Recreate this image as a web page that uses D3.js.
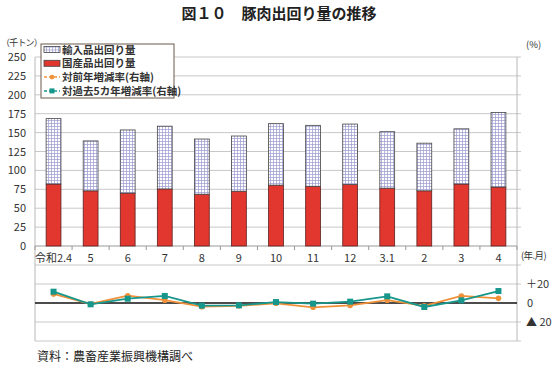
<!DOCTYPE html>
<html>
<head>
<meta charset="utf-8">
<script src="https://cdn.jsdelivr.net/npm/d3@7"></script>
<style>
  body { margin: 0; background: #fff; }
  svg { display: block; font-family: "Noto Sans CJK JP", "Noto Sans", sans-serif; }
</style>
</head>
<body>
<svg id="chart" width="558" height="369"></svg>
<script>
const categories = ['令和2.4', '5', '6', '7', '8', '9', '10', '11', '12', '3.1', '2', '3', '4']
const domestic = [82, 73, 70, 75.5, 68.5, 72.5, 80.5, 79, 81.3, 76.5, 73, 82, 78]
const total = [168.5, 139, 153.5, 158.5, 141.5, 145.5, 161.8, 159.6, 161.3, 151.2, 136, 155, 176.5]
const imported = total.map((t, i) => +(t - domestic[i]).toFixed(1))
const yoy = [9.5, -1, 7.7, 3, -3.9, -3, -0.3, -4.5, -2.5, 3, -3, 7.4, 4.9]
const vs5y = [11.9, -1.4, 4.5, 7.4, -2.8, -2.5, 1, -0.7, 1.4, 7, -4.2, 2.8, 12.6]
const leftTicks = d3.range(0, 251, 25)
const rightTicks = [20, 0, -20]

const colors = { domestic: '#e2372e', yoy: '#f0913a', vs5y: '#17968c', grid: '#c8c8c8', text: '#333' }
const margin = { left: 35, right: 517, top: 57, bottom: 246 }

const svg = d3.select('#chart')

const x = d3.scaleBand()
  .domain(categories)
  .range([margin.left, margin.right])
  .paddingInner(0.6)
  .paddingOuter(0.3)
const y = d3.scaleLinear().domain([0, 250]).range([margin.bottom, margin.top])
const y2 = d3.scaleLinear().domain([-40, 40]).range([341, 265])

// hatch pattern for imports
const defs = svg.append('defs')
const pat = defs.append('pattern')
  .attr('id', 'grid')
  .attr('width', 3).attr('height', 3)
  .attr('patternUnits', 'userSpaceOnUse')
pat.append('rect').attr('width', 3).attr('height', 3).attr('fill', '#fff')
pat.append('path').attr('d', 'M0,0.5H3M0.5,0V3').attr('stroke', '#9a9ad0').attr('stroke-width', 0.7)

// title
svg.append('text')
  .attr('x', 279).attr('y', 19)
  .attr('text-anchor', 'middle')
  .attr('font-size', 15).attr('font-weight', 'bold').attr('fill', '#222')
  .text('図１０　豚肉出回り量の推移')

// top grid
svg.append('g').selectAll('line')
  .data(leftTicks.filter(d => d > 0))
  .join('line')
  .attr('x1', margin.left).attr('x2', margin.right + 4)
  .attr('y1', d => y(d)).attr('y2', d => y(d))
  .attr('stroke', colors.grid)

svg.append('g').selectAll('text')
  .data(leftTicks)
  .join('text')
  .attr('x', 26).attr('y', d => y(d) + 4)
  .attr('text-anchor', 'end')
  .attr('font-size', 11).attr('fill', colors.text)
  .text(d => d)

// bottom grid
svg.append('g').selectAll('line')
  .data([40, 20, -20, -40])
  .join('line')
  .attr('x1', margin.left).attr('x2', margin.right + 4)
  .attr('y1', d => y2(d)).attr('y2', d => y2(d))
  .attr('stroke', colors.grid)

svg.append('g').selectAll('text')
  .data(rightTicks)
  .join('text')
  .attr('x', d => d === 0 ? 527 : 526).attr('y', d => y2(d) + 4)
  .attr('font-size', 11).attr('fill', colors.text)
  .text(d => d > 0 ? '＋' + d : d < 0 ? '▲ ' + (-d) : '0')

// axes lines
svg.append('line')
  .attr('x1', margin.left).attr('x2', margin.left)
  .attr('y1', margin.top).attr('y2', 341)
  .attr('stroke', '#b8b8b8')
svg.append('line')
  .attr('x1', margin.right).attr('x2', margin.right)
  .attr('y1', margin.top).attr('y2', 341)
  .attr('stroke', '#b8b8b8')
svg.append('line')
  .attr('x1', margin.left).attr('x2', margin.right)
  .attr('y1', y(0)).attr('y2', y(0))
  .attr('stroke', '#999')

// category ticks
const step = x.step()
svg.append('g').selectAll('line')
  .data(d3.range(categories.length + 1))
  .join('line')
  .attr('x1', i => margin.left + i * step).attr('x2', i => margin.left + i * step)
  .attr('y1', y(0)).attr('y2', y(0) + 4)
  .attr('stroke', '#999')

svg.append('g').selectAll('text')
  .data(categories)
  .join('text')
  .attr('x', d => x(d) + x.bandwidth() / 2)
  .attr('y', 262)
  .attr('text-anchor', 'middle')
  .attr('font-size', 11).attr('fill', colors.text)
  .text(d => d)

// bars
const bars = svg.append('g')
bars.selectAll('.dom')
  .data(categories)
  .join('rect')
  .attr('class', 'dom')
  .attr('x', d => x(d)).attr('width', x.bandwidth())
  .attr('y', (d, i) => y(domestic[i]))
  .attr('height', (d, i) => y(0) - y(domestic[i]))
  .attr('fill', colors.domestic).attr('stroke', '#5a2020').attr('stroke-width', 0.8)
bars.selectAll('.imp')
  .data(categories)
  .join('rect')
  .attr('class', 'imp')
  .attr('x', d => x(d)).attr('width', x.bandwidth())
  .attr('y', (d, i) => y(domestic[i] + imported[i]))
  .attr('height', (d, i) => y(domestic[i]) - y(domestic[i] + imported[i]))
  .attr('fill', 'url(#grid)').attr('stroke', '#444').attr('stroke-width', 0.8)

// zero line bottom panel
svg.append('line')
  .attr('x1', margin.left).attr('x2', margin.right)
  .attr('y1', y2(0)).attr('y2', y2(0))
  .attr('stroke', '#111').attr('stroke-width', 1.6)

const cx = d => x(d) + x.bandwidth() / 2
const line = d3.line().x(d => cx(d[0])).y(d => y2(d[1]))

svg.append('path')
  .datum(categories.map((c, i) => [c, yoy[i]]))
  .attr('d', line).attr('fill', 'none')
  .attr('stroke', colors.yoy).attr('stroke-width', 1.8)
svg.append('g').selectAll('circle')
  .data(categories)
  .join('circle')
  .attr('cx', cx).attr('cy', (d, i) => y2(yoy[i]))
  .attr('r', 2.8).attr('fill', colors.yoy)

svg.append('path')
  .datum(categories.map((c, i) => [c, vs5y[i]]))
  .attr('d', line).attr('fill', 'none')
  .attr('stroke', colors.vs5y).attr('stroke-width', 1.8)
svg.append('g').selectAll('rect')
  .data(categories)
  .join('rect')
  .attr('x', d => cx(d) - 3).attr('y', (d, i) => y2(vs5y[i]) - 3)
  .attr('width', 6).attr('height', 6)
  .attr('fill', colors.vs5y)

// unit labels
svg.append('text').attr('x', 1).attr('y', 46)
  .attr('font-size', 9).attr('letter-spacing', -0.8).attr('fill', colors.text).text('（千トン）')
svg.append('text').attr('x', 526).attr('y', 48)
  .attr('font-size', 9.5).attr('fill', colors.text).text('(%)')
svg.append('text').attr('x', 521).attr('y', 259)
  .attr('font-size', 9.5).attr('letter-spacing', -0.6).attr('fill', colors.text).text('(年.月)')

// legend
const lg = svg.append('g').attr('transform', 'translate(41,44)')
lg.append('rect').attr('width', 133).attr('height', 54)
  .attr('fill', '#fff').attr('stroke', '#6b5a4a').attr('stroke-width', 1)
const items = [
  { label: '輸入品出回り量', type: 'imp' },
  { label: '国産品出回り量', type: 'dom' },
  { label: '対前年増減率(右軸)', type: 'yoy' },
  { label: '対過去5カ年増減率(右軸)', type: 'vs5y' }
]
items.forEach((it, i) => {
  const g = lg.append('g').attr('transform', `translate(2,${5.5 + i * 13.8})`)
  if (it.type === 'imp' || it.type === 'dom') {
    g.append('rect').attr('x', 1).attr('y', -3).attr('width', 16).attr('height', 6)
      .attr('fill', it.type === 'imp' ? 'url(#grid)' : colors.domestic)
      .attr('stroke', '#444').attr('stroke-width', 0.8)
  } else {
    const c = colors[it.type]
    g.append('line').attr('x1', 1).attr('x2', 17).attr('y1', 0).attr('y2', 0)
      .attr('stroke', c).attr('stroke-width', 1.5).attr('stroke-dasharray', '3,2')
    if (it.type === 'yoy') g.append('circle').attr('cx', 9).attr('cy', 0).attr('r', 2.3).attr('fill', c)
    else g.append('rect').attr('x', 6.5).attr('y', -2.5).attr('width', 5).attr('height', 5).attr('fill', c)
  }
  g.append('text').attr('x', 19).attr('y', 4)
    .attr('font-size', 10.5).attr('font-weight', 'bold').attr('fill', '#333')
    .text(it.label)
})

// source
svg.append('text').attr('x', 37).attr('y', 361)
  .attr('font-size', 12).attr('fill', '#222')
  .text('資料：農畜産業振興機構調べ')
</script>
</body>
</html>
